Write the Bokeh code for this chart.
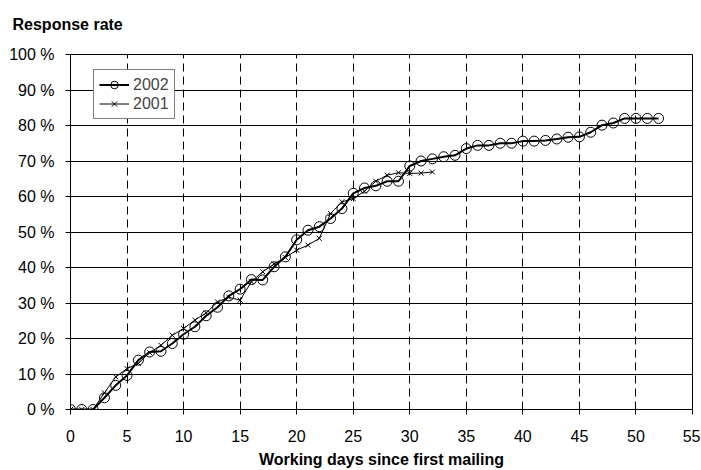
from bokeh.plotting import figure
from bokeh.models import Range1d, FixedTicker, Legend, LegendItem, Title
from bokeh.embed import file_html
from bokeh.resources import INLINE

# ---- data ----
days_2002 = list(range(0, 53))
rate_2002 = [0, 0, 0, 3.3, 6.8, 9.6, 13.9, 16.2, 16.4, 18.6,
             21.2, 23.3, 26.4, 28.8, 32.0, 33.9, 36.6, 36.5, 40.2, 43.0,
             47.8, 50.5, 51.5, 53.8, 56.6, 60.9, 62.4, 63.0, 64.3, 64.3,
             68.6, 70.0, 70.6, 71.2, 71.6, 73.5, 74.4, 74.4, 75.0, 75.0,
             75.6, 75.6, 75.8, 76.2, 76.7, 76.8, 78.1, 80.1, 80.7, 82.0,
             82.0, 82.0, 82.0]

days_2001 = list(range(0, 33))
rate_2001 = [0, 0, 0, 4.7, 9.2, 11.5, 13.0, 16.0, 18.1, 20.9,
             22.8, 25.2, 27.2, 30.3, 31.6, 30.8, 36.0, 38.8, 41.0, 42.8,
             44.9, 46.3, 48.2, 55.2, 58.5, 59.4, 61.5, 64.3, 66.0, 66.7,
             66.5, 66.6, 66.9]

series_names = ["2002", "2001"]
x_ticks = [0, 5, 10, 15, 20, 25, 30, 35, 40, 45, 50, 55]
y_ticks = [0, 10, 20, 30, 40, 50, 60, 70, 80, 90, 100]
y_tick_labels = ["0 %", "10 %", "20 %", "30 %", "40 %", "50 %", "60 %",
                 "70 %", "80 %", "90 %", "100 %"]
title_text = "Response rate"
x_label_text = "Working days since first mailing"

FONT = "Liberation Sans"

p = figure(frame_width=622, frame_height=355,
           min_border_left=70, min_border_right=8,
           min_border_top=54, min_border_bottom=60,
           x_range=Range1d(0, 55), y_range=Range1d(0, 100),
           output_backend="svg", toolbar_location=None,
           background_fill_color="white", border_fill_color="white")

p.outline_line_color = "black"
p.outline_line_width = 1

# blank spacer between the frame and the title (pushes the title upward)
p.add_layout(Title(text=" ", standoff=0, text_font=FONT,
                   text_font_size="16px"), "above")

# title (top-left, outside the frame)
p.title.text = title_text
p.title.align = "left"
p.title.vertical_align = "bottom"
p.title.offset = -58
p.title.standoff = 5
p.title.text_font = FONT
p.title.text_font_size = "16px"
p.title.text_font_style = "bold"
p.title.text_color = "black"

# axes
for ax in (p.xaxis[0], p.yaxis[0]):
    ax.axis_line_color = "black"
    ax.major_tick_line_color = "black"
    ax.major_tick_out = 5
    ax.major_tick_in = 0
    ax.minor_tick_line_color = None
    ax.major_label_text_font = FONT
    ax.major_label_text_font_size = "16px"
    ax.major_label_text_color = "black"

p.xaxis.ticker = FixedTicker(ticks=x_ticks)
p.yaxis.ticker = FixedTicker(ticks=y_ticks)
p.yaxis.major_label_overrides = {t: l for t, l in zip(y_ticks, y_tick_labels)}
p.xaxis.major_label_standoff = 15
p.yaxis.major_label_standoff = 11

p.xaxis.axis_label = x_label_text
p.xaxis.axis_label_text_font = FONT
p.xaxis.axis_label_text_font_size = "16px"
p.xaxis.axis_label_text_font_style = "bold"
p.xaxis.axis_label_text_color = "black"
p.xaxis.axis_label_standoff = 6

# grids
p.xgrid.ticker = FixedTicker(ticks=x_ticks)
p.ygrid.ticker = FixedTicker(ticks=y_ticks)
p.xgrid.grid_line_color = "black"
p.xgrid.grid_line_dash = "8 5"
p.xgrid.grid_line_width = 1
p.ygrid.grid_line_color = "black"
p.ygrid.grid_line_width = 1

# series
l01 = p.line(days_2001, rate_2001, line_color="black", line_width=1)
m01 = p.scatter(days_2001, rate_2001, marker="x", size=7,
                line_color="black", line_width=1)
l02 = p.line(days_2002, rate_2002, line_color="black", line_width=2)
m02 = p.scatter(days_2002, rate_2002, marker="circle", size=10,
                line_color="black", line_width=1, fill_alpha=0)

legend = Legend(items=[LegendItem(label=series_names[0], renderers=[l02, m02]),
                       LegendItem(label=series_names[1], renderers=[l01, m01])],
                location=(23, 290), margin=0, padding=5, spacing=0,
                glyph_width=30, glyph_height=19, label_height=19,
                label_standoff=4, label_text_font=FONT,
                label_text_font_size="16px", border_line_color="black",
                border_line_width=1, background_fill_color="white",
                background_fill_alpha=1)
p.add_layout(legend, "center")

open("out.html", "w").write(file_html(p, INLINE))
